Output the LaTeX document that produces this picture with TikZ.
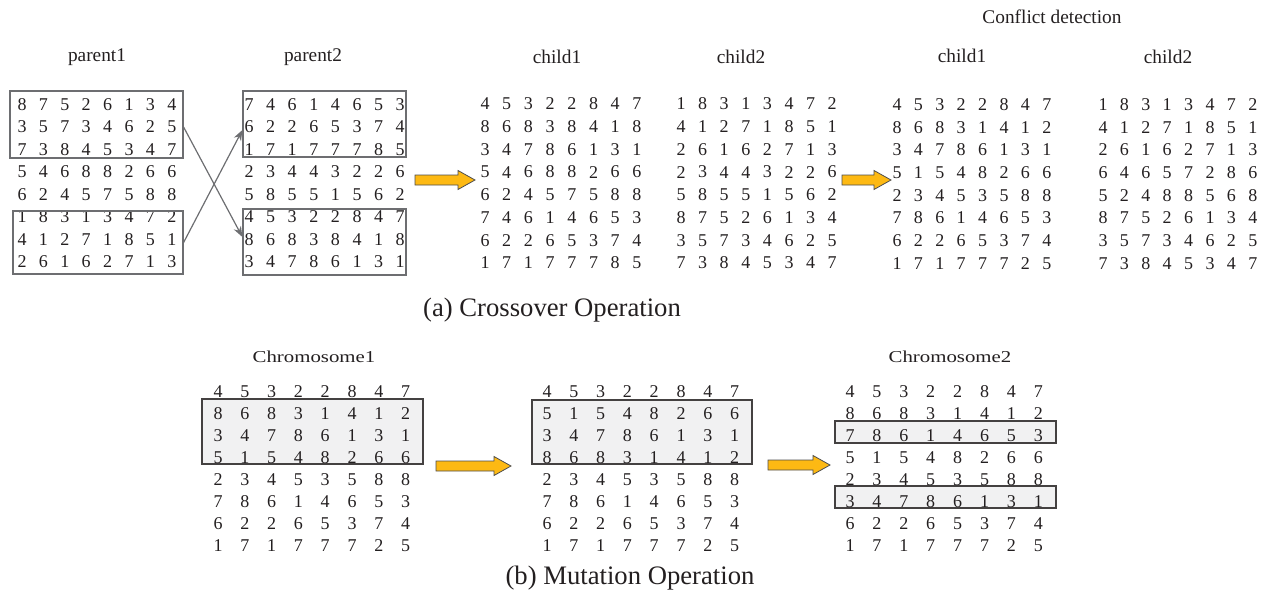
\documentclass[tikz,border=0pt]{standalone}
\usepackage{fontspec}
\setmainfont{Liberation Serif}
\usetikzlibrary{fit,arrows.meta}

\definecolor{ink}{HTML}{231F20}
\definecolor{framegray}{HTML}{6D6E71}
\definecolor{arrowfill}{HTML}{FDB913}
\definecolor{arrowline}{HTML}{4D4D4D}
\definecolor{shade}{HTML}{F1F1F2}

\tikzset{
  digit/.style={inner sep=0pt, text=ink, font=\fontsize{13.5}{16}\selectfont},
  title/.style={inner sep=0pt, text=ink, font=\fontsize{14.5}{17}\selectfont},
  chromtitle/.style={inner sep=0pt, text=ink, font=\fontsize{12.5}{15}\selectfont},
  caption/.style={inner sep=0pt, text=ink, font=\fontsize{20}{24}\selectfont},
  groupbox/.style={draw=framegray, line width=0.9pt, inner sep=0pt},
  markbox/.style={draw=ink!85, fill=shade, line width=0.8pt, inner sep=0pt},
  swapline/.style={draw=framegray, line width=0.9pt, -{Stealth[length=8pt,width=6pt]}},
  blockarrow/.style={draw=arrowline, fill=arrowfill, line width=0.6pt, line join=miter},
}

% grid of digits: name, x0, y0, dx, dy, rows
\newcommand\digitgrid[6]{%
  \foreach \rowdata [count=\ri] in {#6}{%
    \foreach \dg [count=\ci] in \rowdata{%
      \node[digit] (#1-\ri-\ci) at ({#2+(\ci-1)*#4},{#3+(\ri-1)*#5}) {\dg};
    }%
  }%
}

% horizontal block arrow: x start, x tip, y centre
\newcommand\blockarrowat[3]{%
  \draw[blockarrow] (#1,#3-5) -- (#2-17,#3-5) -- (#2-17,#3-9.5) -- (#2,#3)
    -- (#2-17,#3+9.5) -- (#2-17,#3+5) -- (#1,#3+5) -- cycle;
}

\begin{document}
\begin{tikzpicture}[x=0.75pt,y=-0.75pt]
\useasboundingbox (0,0) rectangle (1270,596);

% ---------- (a) crossover ----------
\node[title] (tp1) at (97,57) {parent1};
\node[title] (tp2) at (313,57) {parent2};
\node[title] (tc1) at (557,57) {child1};
\node[title] (tc2) at (741,57) {child2};
\node[title] (tcd) at (1052,17) {Conflict detection};
\node[title] (td1) at (962,56) {child1};
\node[title] (td2) at (1168,57) {child2};

\digitgrid{pa}{22}{104.5}{21.4}{22.5}{
  {8,7,5,2,6,1,3,4},{3,5,7,3,4,6,2,5},{7,3,8,4,5,3,4,7},{5,4,6,8,8,2,6,6},
  {6,2,4,5,7,5,8,8},{1,8,3,1,3,4,7,2},{4,1,2,7,1,8,5,1},{2,6,1,6,2,7,1,3}}
\digitgrid{pb}{249}{104.5}{21.6}{22.5}{
  {7,4,6,1,4,6,5,3},{6,2,2,6,5,3,7,4},{1,7,1,7,7,7,8,5},{2,3,4,4,3,2,2,6},
  {5,8,5,5,1,5,6,2},{4,5,3,2,2,8,4,7},{8,6,8,3,8,4,1,8},{3,4,7,8,6,1,3,1}}
\digitgrid{ca}{485}{104}{21.7}{22.7}{
  {4,5,3,2,2,8,4,7},{8,6,8,3,8,4,1,8},{3,4,7,8,6,1,3,1},{5,4,6,8,8,2,6,6},
  {6,2,4,5,7,5,8,8},{7,4,6,1,4,6,5,3},{6,2,2,6,5,3,7,4},{1,7,1,7,7,7,8,5}}
\digitgrid{cb}{681}{104}{21.6}{22.7}{
  {1,8,3,1,3,4,7,2},{4,1,2,7,1,8,5,1},{2,6,1,6,2,7,1,3},{2,3,4,4,3,2,2,6},
  {5,8,5,5,1,5,6,2},{8,7,5,2,6,1,3,4},{3,5,7,3,4,6,2,5},{7,3,8,4,5,3,4,7}}
\digitgrid{da}{897}{104.5}{21.4}{22.7}{
  {4,5,3,2,2,8,4,7},{8,6,8,3,1,4,1,2},{3,4,7,8,6,1,3,1},{5,1,5,4,8,2,6,6},
  {2,3,4,5,3,5,8,8},{7,8,6,1,4,6,5,3},{6,2,2,6,5,3,7,4},{1,7,1,7,7,7,2,5}}
\digitgrid{db}{1103}{104.5}{21.4}{22.7}{
  {1,8,3,1,3,4,7,2},{4,1,2,7,1,8,5,1},{2,6,1,6,2,7,1,3},{6,4,6,5,7,2,8,6},
  {5,2,4,8,8,5,6,8},{8,7,5,2,6,1,3,4},{3,5,7,3,4,6,2,5},{7,3,8,4,5,3,4,7}}

% exchanged segments
\node[groupbox, fit={(10,91) (183,158)}] (paTop) {};
\node[groupbox, fit={(13,211) (183,274)}] (paBot) {};
\node[groupbox, fit={(243,91) (406,157)}] (pbTop) {};
\node[groupbox, fit={(243,209) (406,275)}] (pbBot) {};

\draw[swapline] ([yshift=-1.9pt]paTop.east) -- ([yshift=3.75pt]pbBot.west);
\draw[swapline] (paBot.east) -- ([yshift=-4.5pt]pbTop.west);

\blockarrowat{415}{475}{180}
\blockarrowat{842}{891}{180}

\node[caption] (capa) at (552,310) {(a) Crossover Operation};

% ---------- (b) mutation ----------
\node[chromtitle] (tm1) at (314,357) {\scalebox{1.25}[1]{Chromosome1}};
\node[chromtitle] (tm3) at (950,357) {\scalebox{1.25}[1]{Chromosome2}};

\node[markbox, fit={(202,399) (423,464)}] (ma) {};
\node[markbox, fit={(532,400) (752,464)}] (mb) {};
\node[markbox, fit={(835,421) (1056,443)}] (mc1) {};
\node[markbox, fit={(835,486) (1056,508)}] (mc2) {};

\digitgrid{ga}{218}{392}{26.8}{21.9}{
  {4,5,3,2,2,8,4,7},{8,6,8,3,1,4,1,2},{3,4,7,8,6,1,3,1},{5,1,5,4,8,2,6,6},
  {2,3,4,5,3,5,8,8},{7,8,6,1,4,6,5,3},{6,2,2,6,5,3,7,4},{1,7,1,7,7,7,2,5}}
\digitgrid{gb}{547}{392}{26.8}{21.9}{
  {4,5,3,2,2,8,4,7},{5,1,5,4,8,2,6,6},{3,4,7,8,6,1,3,1},{8,6,8,3,1,4,1,2},
  {2,3,4,5,3,5,8,8},{7,8,6,1,4,6,5,3},{6,2,2,6,5,3,7,4},{1,7,1,7,7,7,2,5}}
\digitgrid{gc}{850}{392}{26.9}{21.9}{
  {4,5,3,2,2,8,4,7},{8,6,8,3,1,4,1,2},{7,8,6,1,4,6,5,3},{5,1,5,4,8,2,6,6},
  {2,3,4,5,3,5,8,8},{3,4,7,8,6,1,3,1},{6,2,2,6,5,3,7,4},{1,7,1,7,7,7,2,5}}

\blockarrowat{436}{511}{466}
\blockarrowat{768}{830}{465}

\node[caption] (capb) at (630,578) {(b) Mutation Operation};
\end{tikzpicture}
\end{document}
